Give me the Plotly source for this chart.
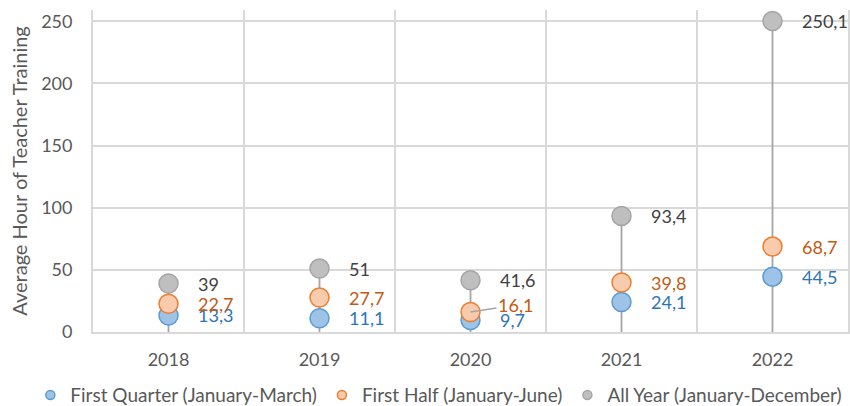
import plotly.graph_objects as go

# Average hours of teacher training per period
years = ["2018", "2019", "2020", "2021", "2022"]
first_quarter = [13.3, 11.1, 9.7, 24.1, 44.5]
first_half = [22.7, 27.7, 16.1, 39.8, 68.7]
all_year = [39, 51, 41.6, 93.4, 250.1]

series_names = [
    "First Quarter (January-March)",
    "First Half (January-June)",
    "All Year (January-December)",
]
y_ticks = [0, 50, 100, 150, 200, 250]

FONT = "Lato"
GRID = "#D9D9D9"
fills = ["#9DC3E6", "#F8CBAD", "#BFBFBF"]
edges = ["#5B9BD5", "#ED7D31", "#A5A5A5"]
label_colors = ["#2E75B6", "#C55A11", "#404040"]

x = list(range(len(years)))
series = [first_quarter, first_half, all_year]

fig = go.Figure()

# All-year markers first, carrying the stem from zero as a one-sided error bar
fig.add_trace(go.Scatter(
    x=x, y=all_year, mode="markers", showlegend=False, hoverinfo="skip",
    marker=dict(size=19, color=fills[2], line=dict(color=edges[2], width=1.5)),
    error_y=dict(type="data", symmetric=False, array=[0] * len(all_year),
                 arrayminus=all_year, width=0, thickness=1.8, color=edges[2]),
))
for i in (0, 1):
    fig.add_trace(go.Scatter(
        x=x, y=series[i], mode="markers", showlegend=False, hoverinfo="skip",
        marker=dict(size=19, color=fills[i], line=dict(color=edges[i], width=1.5)),
    ))

# Legend entries with small dots
for i, name in enumerate(series_names):
    fig.add_trace(go.Scatter(
        x=[None], y=[None], mode="markers", name=name,
        marker=dict(size=9, color=fills[i], line=dict(color=edges[i], width=1.5)),
    ))

# Value labels to the right of each marker (decimal comma)
annotations = []
for i, vals in enumerate(series):
    for xi, v in zip(x, vals):
        txt = f"{v:g}".replace(".", ",")
        if i == 1 and years[xi] == "2020":
            annotations.append(dict(
                x=xi, y=v, text=txt, showarrow=True, arrowhead=0, arrowwidth=1.5,
                arrowcolor=edges[2], ax=45, ay=-7, standoff=0,
                font=dict(family=FONT, size=18, color=label_colors[i]),
            ))
        else:
            annotations.append(dict(
                x=xi, y=v, text=txt, showarrow=False, xanchor="left",
                xshift=27, font=dict(family=FONT, size=18, color=label_colors[i]),
            ))

fig.update_layout(
    width=850, height=406,
    margin=dict(l=93, r=2, t=10, b=74, autoexpand=False),
    paper_bgcolor="white", plot_bgcolor="white",
    font=dict(family=FONT, size=18, color="#595959"),
    annotations=annotations,
    legend=dict(orientation="h", x=-0.083, xanchor="left",
                y=-0.196, yanchor="middle",
                font=dict(family=FONT, size=19, color="#595959"),
                itemwidth=30, tracegroupgap=0),
    xaxis=dict(
        range=[-0.5, len(years) - 0.5], tickmode="array", tickvals=x,
        ticktext=years, showgrid=False, zeroline=False, ticks="",
        ticklabelstandoff=10, showline=True, linecolor=GRID, linewidth=1.8,
        minor=dict(tick0=0.5, dtick=1, showgrid=True, gridcolor=GRID,
                   gridwidth=1.8, ticks=""),
    ),
    yaxis=dict(
        range=[0, 259], tickmode="array", tickvals=y_ticks,
        showgrid=True, gridcolor=GRID, gridwidth=1.8, zeroline=False,
        showline=True, linecolor=GRID, linewidth=1.8, mirror=True,
        ticks="", ticklabelstandoff=15,
        title=dict(text="Average Hour of Teacher Training", standoff=8,
                   font=dict(family=FONT, size=20, color="#595959")),
    ),
)

fig.write_html("out.html")
